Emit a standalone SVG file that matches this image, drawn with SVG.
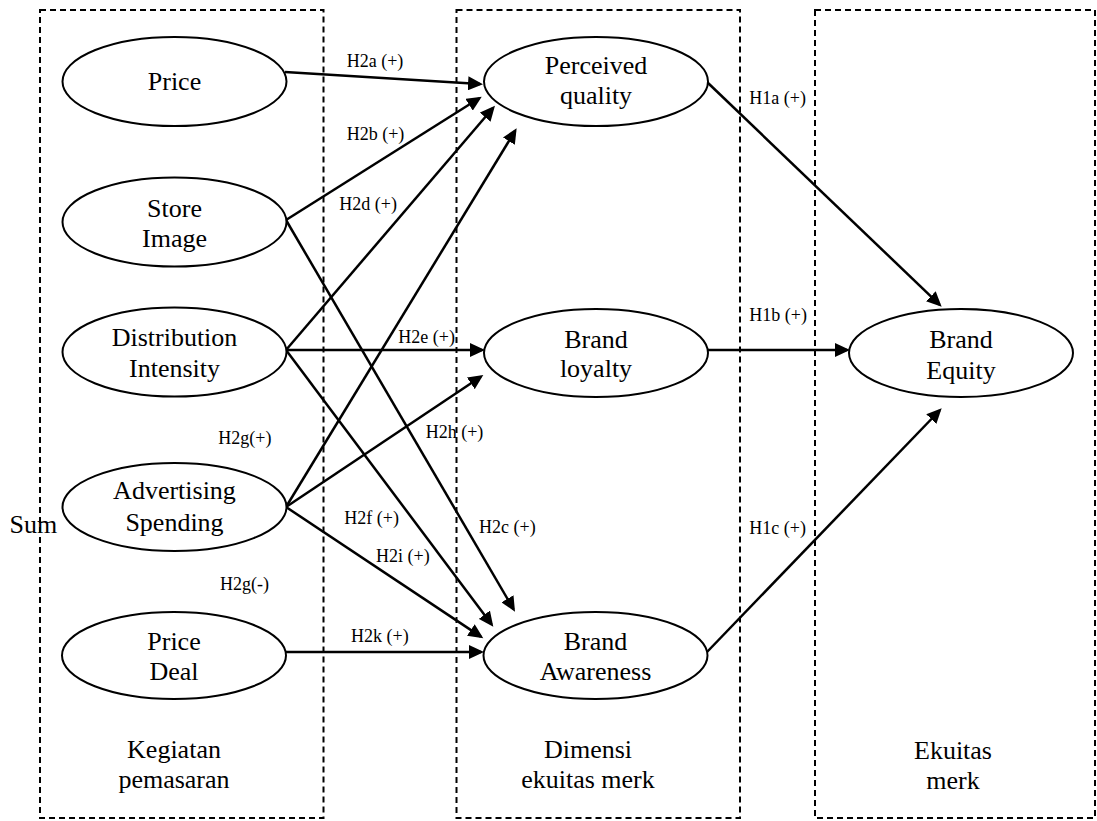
<svg xmlns="http://www.w3.org/2000/svg" width="1097" height="821" viewBox="0 0 1097 821">
<style>
  .box { fill: none; stroke: #000; stroke-width: 2; stroke-dasharray: 6 4; }
  .node ellipse { fill: #fff; stroke: #000; stroke-width: 2; }
  .nt { font-family: "Liberation Serif", "Times New Roman", serif; font-size: 26px; fill: #000; text-anchor: middle; }
  .lbl { font-family: "Liberation Serif", "Times New Roman", serif; font-size: 18px; fill: #000; }
  .big { font-family: "Liberation Serif", "Times New Roman", serif; font-size: 26px; fill: #000; }
  .conn line { stroke: #000; stroke-width: 2.5; marker-end: url(#arr); }
</style>
<defs>
  <marker id="arr" markerUnits="userSpaceOnUse" markerWidth="16" markerHeight="14" refX="12" refY="7" orient="auto">
    <path d="M0,0 L15,7 L0,14 z" fill="#000"/>
  </marker>
</defs>
<rect width="1097" height="821" fill="#fff"/>
<g id="groups">
  <rect class="box" x="40" y="10" width="283.5" height="808"/>
  <rect class="box" x="456.5" y="10" width="283.5" height="808"/>
  <rect class="box" x="815" y="10" width="280" height="808"/>
  <text class="nt" x="174" y="758">Kegiatan</text>
  <text class="nt" x="174" y="788">pemasaran</text>
  <text class="nt" x="588" y="758">Dimensi</text>
  <text class="nt" x="588" y="788">ekuitas merk</text>
  <text class="nt" x="953" y="759">Ekuitas</text>
  <text class="nt" x="953" y="789">merk</text>
  <text class="big" x="9.5" y="533">Sum</text>
</g>
<g id="connectors" class="conn">
  <line x1="285" y1="72" x2="480" y2="84.1"/>
  <line x1="286" y1="220" x2="479.2" y2="98.3"/>
  <line x1="286" y1="350" x2="493" y2="108"/>
  <line x1="286" y1="507" x2="515.1" y2="130.9"/>
  <line x1="286" y1="220" x2="513.5" y2="609.1"/>
  <line x1="286" y1="350" x2="482" y2="350"/>
  <line x1="286" y1="350" x2="491.5" y2="624.3"/>
  <line x1="286" y1="507" x2="480.8" y2="376.7"/>
  <line x1="286" y1="507" x2="480.8" y2="636.6"/>
  <line x1="285.5" y1="652" x2="481" y2="652"/>
  <line x1="707" y1="82" x2="939.5" y2="304.6"/>
  <line x1="707" y1="350" x2="847" y2="350"/>
  <line x1="707" y1="652" x2="939.6" y2="410.5"/>
</g>
<g id="labels">
  <text class="lbl" x="346.7" y="66.7">H2a (+)</text>
  <text class="lbl" x="346.7" y="140">H2b (+)</text>
  <text class="lbl" x="339.3" y="210">H2d (+)</text>
  <text class="lbl" x="398.3" y="343.3">H2e (+)</text>
  <text class="lbl" x="425.7" y="438.3">H2h (+)</text>
  <text class="lbl" x="344.3" y="524.3">H2f (+)</text>
  <text class="lbl" x="376" y="561.7">H2i (+)</text>
  <text class="lbl" x="479" y="533.3">H2c (+)</text>
  <text class="lbl" x="351" y="641.7">H2k (+)</text>
  <text class="lbl" x="218.3" y="444.3">H2g(+)</text>
  <text class="lbl" x="220" y="590">H2g(-)</text>
  <text class="lbl" x="749.3" y="104.3">H1a (+)</text>
  <text class="lbl" x="749.3" y="321">H1b (+)</text>
  <text class="lbl" x="749.3" y="534">H1c (+)</text>
</g>
<g id="price" class="node">
  <ellipse cx="174.5" cy="81.5" rx="112" ry="44.5"/>
  <text class="nt" x="174.5" y="90">Price</text>
</g>
<g id="store-image" class="node">
  <ellipse cx="174.5" cy="222" rx="112" ry="44.5"/>
  <text class="nt" x="174.5" y="216.5">Store</text>
  <text class="nt" x="174.5" y="246.5">Image</text>
</g>
<g id="distribution-intensity" class="node">
  <ellipse cx="174.5" cy="352" rx="112" ry="44.5"/>
  <text class="nt" x="174.5" y="346">Distribution</text>
  <text class="nt" x="174.5" y="376.5">Intensity</text>
</g>
<g id="advertising-spending" class="node">
  <ellipse cx="174.5" cy="507" rx="112" ry="44"/>
  <text class="nt" x="174.5" y="499">Advertising</text>
  <text class="nt" x="174.5" y="531">Spending</text>
</g>
<g id="price-deal" class="node">
  <ellipse cx="174" cy="655.5" rx="112" ry="43.5"/>
  <text class="nt" x="174" y="650">Price</text>
  <text class="nt" x="174" y="680">Deal</text>
</g>
<g id="perceived-quality" class="node">
  <ellipse cx="596" cy="81.5" rx="112" ry="44.5"/>
  <text class="nt" x="596" y="74">Perceived</text>
  <text class="nt" x="596" y="104">quality</text>
</g>
<g id="brand-loyalty" class="node">
  <ellipse cx="596" cy="353" rx="112" ry="44"/>
  <text class="nt" x="596" y="348">Brand</text>
  <text class="nt" x="596" y="377">loyalty</text>
</g>
<g id="brand-awareness" class="node">
  <ellipse cx="595.5" cy="655.5" rx="112" ry="43.5"/>
  <text class="nt" x="595.5" y="650">Brand</text>
  <text class="nt" x="595.5" y="680">Awareness</text>
</g>
<g id="brand-equity" class="node">
  <ellipse cx="961" cy="353" rx="112" ry="44"/>
  <text class="nt" x="961" y="348">Brand</text>
  <text class="nt" x="961" y="378.5">Equity</text>
</g>
</svg>
